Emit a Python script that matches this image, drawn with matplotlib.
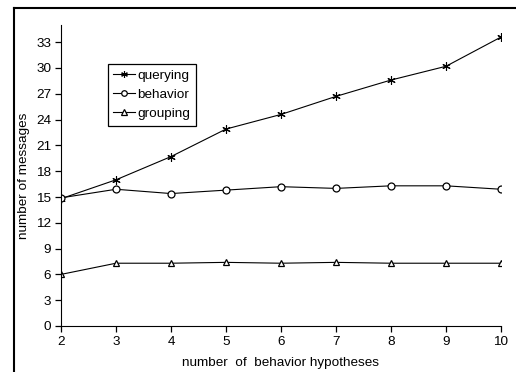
import matplotlib
matplotlib.use("Agg")
import matplotlib.pyplot as plt
from matplotlib.lines import Line2D

hypotheses = [2, 3, 4, 5, 6, 7, 8, 9, 10]
querying = [14.8, 17.0, 19.7, 22.9, 24.6, 26.7, 28.6, 30.2, 33.6]
behavior = [14.9, 15.9, 15.4, 15.8, 16.2, 16.0, 16.3, 16.3, 15.9]
grouping = [6.0, 7.3, 7.3, 7.4, 7.3, 7.4, 7.3, 7.3, 7.3]
yticks = [0, 3, 6, 9, 12, 15, 18, 21, 24, 27, 30, 33]

plt.rcParams['font.family'] = ['Liberation Sans', 'DejaVu Sans']
plt.rcParams['font.size'] = 9.7

fig = plt.figure(figsize=(5.16, 3.72), dpi=100)
ax = fig.add_axes([61/516, 1-326/372, 440/516, 301/372])

ax.plot(hypotheses, querying, color='black', lw=0.8, marker=(6, 2, 0), ms=6, mew=0.8, label='querying')
ax.plot(hypotheses, behavior, color='black', lw=0.8, marker='o', ms=5, mfc='white', mew=0.9, label='behavior')
ax.plot(hypotheses, grouping, color='black', lw=0.8, marker='^', ms=5, mfc='white', mew=0.9, label='grouping')

ax.set_xlim(2, 10)
ax.set_ylim(0, 35)
ax.set_xticks(hypotheses)
ax.set_yticks(yticks)
ax.spines['top'].set_visible(False)
ax.spines['right'].set_visible(False)
ax.tick_params(direction='out', length=4, width=0.9, pad=3)
ax.set_xlabel('number  of  behavior hypotheses', labelpad=7)
ax.set_ylabel('number of messages', labelpad=4.5)

leg = ax.legend(loc='upper left', bbox_to_anchor=(47/440, (326-64)/301), fancybox=False,
                edgecolor='black', framealpha=1, handlelength=1.6, handletextpad=0.2,
                borderpad=0.4, labelspacing=0.5, borderaxespad=0, markerscale=0.8)
leg.get_frame().set_linewidth(0.9)

fig.add_artist(Line2D([14/516, 14/516], [0, 1-8/372], color='black', lw=1.5, transform=fig.transFigure))
fig.add_artist(Line2D([14/516, 1], [1-8/372, 1-8/372], color='black', lw=1.5, transform=fig.transFigure))

fig.savefig('out.png', dpi=100)
